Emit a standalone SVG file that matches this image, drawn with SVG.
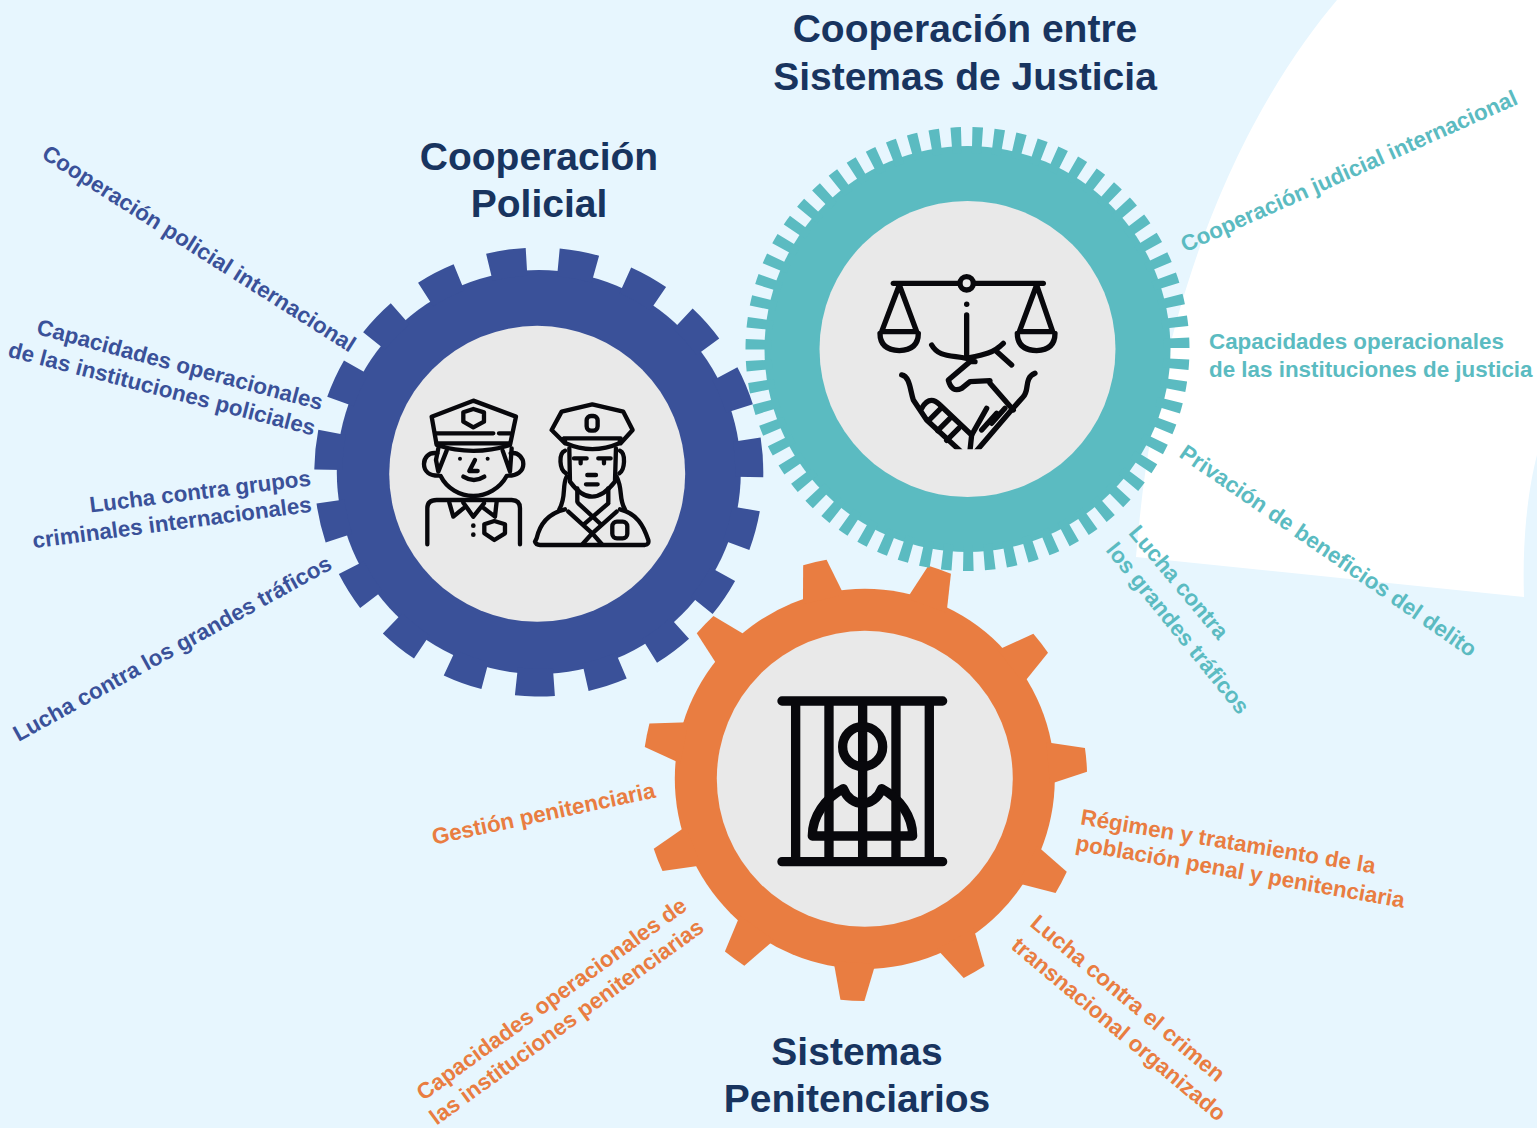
<svg xmlns="http://www.w3.org/2000/svg" width="1537" height="1128" viewBox="0 0 1537 1128">
<style>
.title{font:bold 39px "Liberation Sans",Arial,sans-serif;fill:#18345F;text-anchor:middle}
.lab{font:bold 22.4px "Liberation Sans",Arial,sans-serif;text-anchor:middle}
.b{fill:#3A5199}.t{fill:#5BBBC1}.o{fill:#E97D41}
.hub{fill:#E9E9E9}
.ic{fill:none;stroke:#08080C;stroke-linecap:round;stroke-linejoin:round}
.dot{fill:#08080C}
</style>
<defs>
<path id="otooth" d="M-21,-184 L-12,-222 A222,222 0 0 1 12,-222 L21,-184 Z" fill="#E97D41"/>
<clipPath id="hs"><rect x="0" y="0" width="700" height="568"/></clipPath>
</defs>
<rect width="1537" height="1128" fill="#E7F6FE"/>
<path d="M1337,0 C1265,85 1160,260 1136,557 L1524,597 C1522,540 1528,490 1537,455 L1537,0 Z" fill="#fff"/>

<g id="node-policial">
<circle class="b" cx="538.8" cy="472" r="202"/>
<circle cx="538.8" cy="472" r="210.5" fill="none" stroke="#3A5199" stroke-width="28" pathLength="1900" stroke-dasharray="54 46" stroke-dashoffset="27" transform="rotate(91 538.8 472)"/>
<circle class="hub" cx="537.2" cy="473.8" r="148"/>
<g class="ic" stroke-width="13" transform="translate(300,240) scale(0.3333)">
<path d="M395,530 L520,482 L648,530 L630,615 Q520,650 410,615 Z"/>
<path d="M408,580 L580,580 M597,580 L630,580 M410,610 L630,610"/>
<path d="M490,517 L520,507 L552,517 L552,545 L520,562 L490,545 Z"/>
<path d="M412,640 C385,635 372,655 372,672 C372,695 390,707 415,707 M632,640 C655,635 670,655 670,672 C670,695 650,707 625,707"/>
<path d="M415,625 L408,660 L415,695 L440,632 M608,632 L630,695 L635,625"/>
<path d="M422,708 C440,745 480,768 520,768 C560,768 600,745 620,708"/>
<path d="M525,660 L508,693 L533,693 M490,710 Q522,730 553,710"/>
<path d="M382,913 L382,805 Q382,780 410,780 L635,780 Q660,780 660,805 L660,913"/>
<path d="M448,788 L460,830 L490,805 M490,788 L520,830 L552,790 M552,805 L585,830 L590,785"/>
<path d="M553,853 L583,843 L615,853 L615,880 L583,900 L553,880 Z"/>
<path d="M755,570 L785,515 L877,493 L970,515 L998,570 L962,610 M755,570 L795,610"/>
<path d="M792,595 L962,595 L958,610 Q877,645 797,610 Z"/>
<rect x="860" y="528" width="33" height="44" rx="13"/>
<path d="M795,632 C775,640 778,690 798,700 M960,632 C978,640 975,690 958,700"/>
<path d="M808,625 L810,725 Q875,815 945,725 L948,625"/>
<path d="M822,655 L860,655 M842,655 L842,670 M895,655 L932,655 M912,655 L912,670 M862,705 L888,705 M858,733 L893,733"/>
<path d="M800,710 C785,740 800,770 778,808 M950,710 C970,750 955,775 975,808 M832,745 L832,785 M925,745 L925,785"/>
<path d="M795,808 C745,820 720,850 710,895 L705,905 Q708,915 720,915 L1035,915 Q1048,913 1045,900 C1030,855 1010,820 960,808"/>
<path d="M805,815 L877,880 L905,912 M835,790 L905,855 M950,815 L877,880 L848,912 M925,790 L850,855"/>
<rect x="937" y="845" width="45" height="50" rx="14"/>
</g>
<g class="dot" transform="translate(300,240) scale(0.3333)"><circle cx="480" cy="656" r="6"/><circle cx="563" cy="656" r="6"/><circle cx="520" cy="857" r="7"/><circle cx="520" cy="884" r="7"/></g>
<text class="title"><tspan x="539" y="170">Cooperación</tspan><tspan x="539" y="217">Policial</tspan></text>
<g class="b">
<text class="lab" transform="translate(195,255) rotate(32.3)">Cooperación policial internacional</text>
<text class="lab" transform="translate(178,372) rotate(15)">Capacidades operacionales</text>
<text class="lab" transform="translate(160,396) rotate(14.5)">de las instituciones policiales</text>
<text class="lab" transform="translate(201,499) rotate(-7)">Lucha contra grupos</text>
<text class="lab" transform="translate(173,530) rotate(-7.5)">criminales internacionales</text>
<text class="lab" transform="translate(176,655) rotate(-28.9)">Lucha contra los grandes tráficos</text>
</g>
</g>

<g id="node-penitenciarios">
<circle class="o" cx="864.8" cy="778.8" r="190"/>
<g transform="translate(864.8,778.8)">
<use href="#otooth" transform="rotate(-13)"/><use href="#otooth" transform="rotate(19.7)"/><use href="#otooth" transform="rotate(52.4)"/><use href="#otooth" transform="rotate(85.1)"/><use href="#otooth" transform="rotate(117.8)"/><use href="#otooth" transform="rotate(150.5)"/><use href="#otooth" transform="rotate(183.2)"/><use href="#otooth" transform="rotate(215.9)"/><use href="#otooth" transform="rotate(248.6)"/><use href="#otooth" transform="rotate(281.3)"/><use href="#otooth" transform="rotate(314)"/>
</g>
<circle class="hub" cx="864.8" cy="778.8" r="148"/>
<g class="ic" stroke-width="28" transform="translate(630,550) scale(0.3333)">
<path d="M456,453 L938,453 M456,935 L938,935 M497,453 L497,935 M597,453 L597,935 M698,453 L698,935 M798,453 L798,935 M898,453 L898,935"/>
<circle cx="698" cy="590" r="60"/>
<path d="M547,858 C547,800 585,745 640,716 C650,745 675,760 698,760 C720,760 745,745 755,716 C810,745 848,800 848,858 Z"/>
</g>
<text class="title"><tspan x="857" y="1065">Sistemas</tspan><tspan x="857" y="1112">Penitenciarios</tspan></text>
<g class="o">
<text class="lab" transform="translate(545,821) rotate(-12)">Gestión penitenciaria</text>
<text class="lab" transform="translate(1227,849) rotate(9.5)">Régimen y tratamiento de la</text>
<text class="lab" transform="translate(1239,879) rotate(10)">población penal y penitenciaria</text>
<text class="lab" transform="translate(1123,1004) rotate(40)">Lucha contra el crimen</text>
<text class="lab" transform="translate(1114,1035) rotate(40)">transnacional organizado</text>
<text class="lab" transform="translate(556,1005) rotate(-36)">Capacidades operacionales de</text>
<text class="lab" transform="translate(571,1028) rotate(-36)">las instituciones penitenciarias</text>
</g>
</g>

<g id="node-justicia">
<circle class="t" cx="967.5" cy="349" r="203"/>
<circle cx="967.5" cy="349" r="209" fill="none" stroke="#5BBBC1" stroke-width="26" pathLength="6300" stroke-dasharray="48 52" stroke-dashoffset="24" transform="rotate(266.95 967.5 349)"/>
<circle class="hub" cx="967.5" cy="349" r="148"/>
<g class="ic" stroke-width="16" transform="translate(860,260) scale(0.3333)">
<path d="M100,70 L550,70"/>
<circle cx="320" cy="70" r="20" fill="#E9E9E9"/>
<path d="M320,165 L320,285"/>
<path d="M118,75 L65,215 L170,215 L118,75 M60,220 Q60,270 118,272 Q175,270 175,220"/>
<path d="M530,75 L478,215 L578,215 L530,75 M472,220 Q472,270 530,272 Q585,270 585,220"/>
<path d="M215,255 C235,290 265,285 320,295 C370,285 400,280 430,250 M405,270 L455,315"/>
<g clip-path="url(#hs)">
<path d="M345,305 L330,305 L265,360 Q275,400 305,385 L330,365 L390,362 M390,370 L460,450"/>
<path d="M125,345 C150,350 150,390 160,420 L200,480 L300,572 M525,340 C490,355 510,390 490,410 L450,455 L350,572"/>
<path d="M185,445 C205,410 225,420 240,435 L335,525 L330,572"/>
<path d="M205,483 L241,447 M233,512 L269,476 M260,541 L296,505"/>
<path d="M335,525 L380,445 M365,510 L410,460 M395,490 L435,445"/>
</g>
</g>
<circle class="dot" cx="966.7" cy="304.3" r="2.7"/>
<text class="title"><tspan x="965" y="42">Cooperación entre</tspan><tspan x="965" y="90">Sistemas de Justicia</tspan></text>
<g class="t">
<text class="lab" transform="translate(1352,178) rotate(-24)">Cooperación judicial internacional</text>
<text class="lab" style="text-anchor:start" x="1209" y="349">Capacidades operacionales</text>
<text class="lab" style="text-anchor:start" x="1209" y="377">de las instituciones de justicia</text>
<text class="lab" transform="translate(1324,557) rotate(34.6)">Privación de beneficios del delito</text>
<text class="lab" transform="translate(1173,587) rotate(50)">Lucha contra</text>
<text class="lab" transform="translate(1172,633) rotate(51)">los grandes tráficos</text>
</g>
</g>
</svg>
